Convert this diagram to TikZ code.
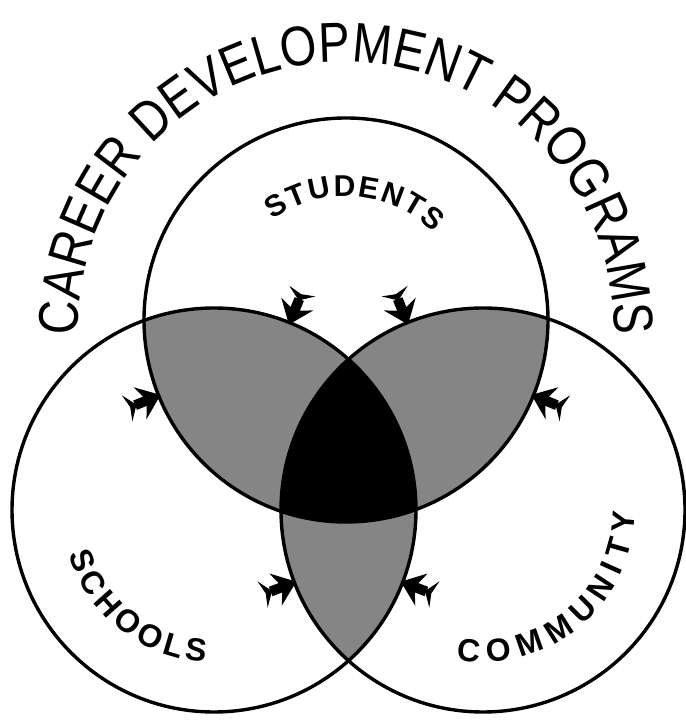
\documentclass[tikz,border=0pt]{standalone}
\usepackage{fontspec}
\setmainfont{Liberation Sans}
\newfontfamily\titlefont[FakeStretch=0.84]{Liberation Sans}
\usetikzlibrary{arrows.meta,calc,decorations.text}
\newcommand{\ringr}{202pt}
\tikzset{
  ring/.style={line width=3.4pt},
  lens/.style={fill=black!48},
  core/.style={fill=black},
  barb/.style={line width=10pt,
    {Stealth[length=10pt,width=28pt,reversed]}-{Stealth[length=22pt,width=34pt]}},
  arctext/.style={decorate,decoration={text along path,#1}}
}

\begin{document}
\begin{tikzpicture}[x=1pt,y=1pt]
    \useasboundingbox (0,0) rectangle (685,722);
    \coordinate (T) at (346,402);
    \coordinate (L) at (214,212);
    \coordinate (R) at (483,212);
    \coordinate (titlec) at (346,392);
    % shaded overlaps
    \begin{scope}
      \clip (T) circle[radius=\ringr];
      \fill[lens] (L) circle[radius=\ringr];
      \fill[lens] (R) circle[radius=\ringr];
    \end{scope}
    \begin{scope}
      \clip (L) circle[radius=\ringr];
      \fill[lens] (R) circle[radius=\ringr];
    \end{scope}
    \begin{scope}
      \clip (T) circle[radius=\ringr];
      \clip (L) circle[radius=\ringr];
      \fill[core] (R) circle[radius=\ringr];
    \end{scope}
    \draw[ring] (T) circle[radius=\ringr];
    \draw[ring] (L) circle[radius=\ringr];
    \draw[ring] (R) circle[radius=\ringr];
    % barbs on the lens edges
    \foreach \c/\a [count=\i] in {L/68,R/112,T/202,T/338,R/201,L/339}{
      \coordinate (b\i) at ($(\c)+(\a:236pt)$);
      \coordinate (e\i) at ($(\c)+(\a:200pt)$);
      \draw[barb] (b\i) -- (e\i);
    }
    % curved labels
    \path[arctext={text align=center,
        text={|\titlefont\fontsize{56}{60}\selectfont|CAREER DEVELOPMENT PROGRAMS}}]
      ($(titlec)+(188:268pt)$) arc[start angle=188,end angle=-8,radius=268pt];
    \path[arctext={text align=fit to path,
        text={|\fontsize{30}{32}\selectfont\bfseries|STUDENTS}}]
      ($(T)+(126:124pt)$) arc[start angle=126,end angle=45,radius=124pt];
    \path[arctext={text align=fit to path,
        text={|\fontsize{32}{34}\selectfont\bfseries|SCHOOLS}}]
      ($(L)+(197:152pt)$) arc[start angle=197,end angle=267,radius=152pt];
    \path[arctext={text align=fit to path,
        text={|\fontsize{32}{34}\selectfont\bfseries|COMMUNITY}}]
      ($(R)+(260:152pt)$) arc[start angle=260,end angle=359,radius=152pt];
\end{tikzpicture}
\end{document}
